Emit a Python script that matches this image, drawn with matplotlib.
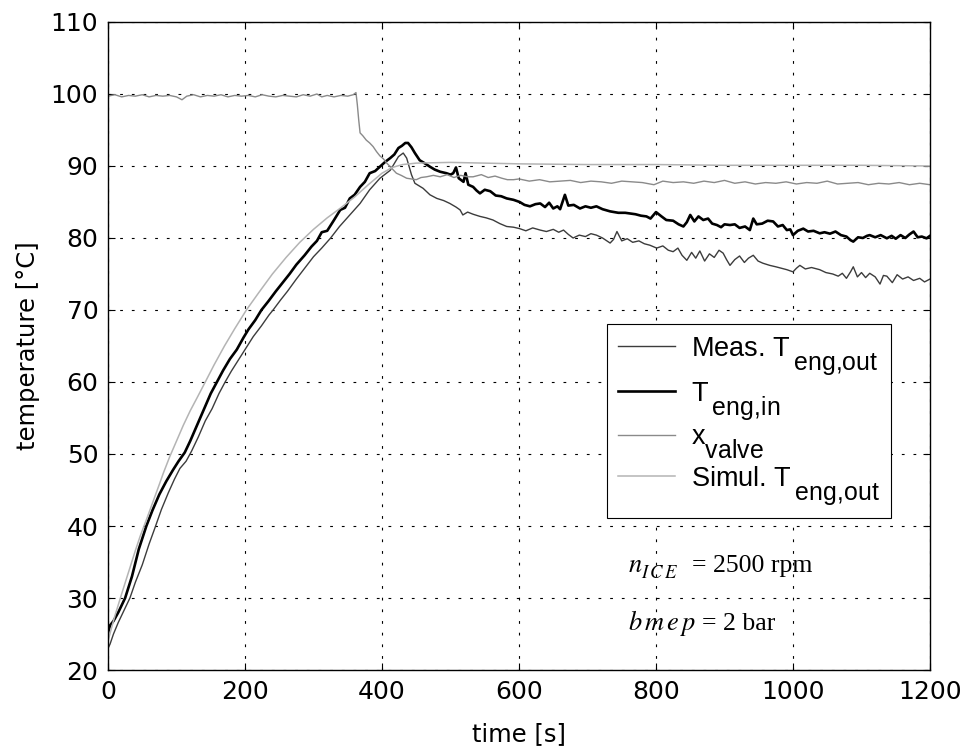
import matplotlib
matplotlib.use("Agg")
import matplotlib.pyplot as plt

# larger, lower subscripts in the legend labels (as in the reference)
try:
    import matplotlib._mathtext as _mt
    _mt.SHRINK_FACTOR = 0.92
    _mt.DejaVuSansFontConstants.sub1 = 0.95
except Exception:
    pass

# ---------------- data ----------------
t_meas = [0, 3, 8, 15, 22, 32, 40, 50, 60, 68, 78, 88, 97, 105, 114, 122, 132, 142, 152, 162,
          171, 180, 190, 200, 212, 224, 235, 241, 252, 262, 275, 287, 300, 312, 325, 338, 353, 368,
          382, 397, 412, 424, 431, 436, 443, 448, 460, 470, 480, 490, 499, 508, 514, 518, 525, 533,
          543, 552, 562, 572, 582, 592, 601, 610, 620, 631, 640, 650, 658, 665, 672, 679, 688, 697,
          705, 713, 722, 733, 738, 743, 750, 758, 766, 775, 783, 791, 801, 810, 818, 825, 832, 838,
          845, 852, 858, 864, 871, 878, 885, 892, 898, 903, 908, 915, 922, 929, 935, 942, 949, 956,
          966, 975, 983, 991, 1000, 1005, 1010, 1018, 1027, 1039, 1048, 1058, 1066, 1072, 1078, 1084,
          1088, 1094, 1100, 1106, 1112, 1120, 1127, 1132, 1137, 1145, 1152, 1160, 1168, 1176, 1185,
          1192, 1200]
y_meas = [23.0, 23.6, 25.0, 26.6, 28.0, 30.0, 32.2, 34.6, 37.5, 39.6, 42.3, 44.6, 46.5, 48.0, 49.0,
          50.4, 52.4, 54.6, 56.3, 58.4, 60.0, 61.5, 63.0, 64.5, 66.3, 67.8, 69.3, 70.0, 71.4, 72.6,
          74.3, 75.8, 77.4, 78.6, 80.0, 81.6, 83.2, 84.8, 86.7, 88.3, 89.4, 91.3, 91.8, 91.1, 88.8,
          87.6, 86.9, 86.0, 85.5, 85.2, 84.8, 84.3, 83.9, 83.2, 83.6, 83.3, 83.0, 82.8, 82.5, 82.0,
          81.6, 81.5, 81.3, 81.0, 81.4, 81.1, 80.9, 81.2, 80.8, 81.1, 80.5, 80.0, 80.4, 80.2, 80.6,
          80.4, 80.0, 79.3, 79.8, 80.9, 79.6, 79.9, 79.4, 79.6, 79.2, 79.0, 78.6, 78.9, 78.3, 78.1,
          78.6, 77.6, 76.9, 78.0, 77.2, 78.2, 76.8, 77.8, 77.3, 78.3, 77.9, 77.0, 76.2, 77.0, 77.5,
          76.6, 77.2, 77.6, 76.8, 76.5, 76.2, 76.0, 75.8, 75.6, 75.3, 75.8, 76.2, 75.7, 75.9, 75.6,
          75.2, 75.0, 74.7, 75.1, 74.4, 75.3, 76.0, 74.6, 75.2, 74.5, 75.1, 74.6, 73.6, 74.8, 74.7,
          73.8, 74.9, 74.3, 74.6, 74.1, 74.4, 73.9, 74.3]

t_in = [0, 3, 8, 15, 25, 35, 45, 56, 65, 75, 85, 95, 103, 112, 120, 130, 140, 150, 159, 168, 178,
        188, 198, 205, 215, 224, 234, 245, 255, 265, 275, 287, 297, 305, 312, 320, 330, 339, 346,
        353, 360, 368, 375, 382, 390, 397, 405, 412, 418, 424, 429, 434, 438, 443, 448, 455, 462,
        470, 477, 485, 494, 500, 504, 508, 512, 519, 522, 526, 533, 538, 543, 550, 558, 566, 574,
        582, 592, 601, 608, 616, 624, 631, 638, 644, 650, 656, 660, 667, 672, 680, 689, 697, 705,
        713, 722, 733, 745, 755, 762, 770, 778, 786, 792, 800, 808, 815, 825, 833, 840, 845, 850,
        856, 862, 869, 876, 882, 889, 895, 900, 908, 915, 922, 930, 937, 942, 947, 955, 963, 971,
        978, 985, 991, 996, 1000, 1007, 1015, 1022, 1030, 1039, 1046, 1054, 1062, 1070, 1078, 1084,
        1088, 1095, 1102, 1108, 1112, 1120, 1128, 1137, 1144, 1150, 1157, 1164, 1170, 1176, 1182,
        1188, 1195, 1200]
y_in = [25.2, 26.2, 26.8, 28.0, 30.0, 33.0, 36.8, 40.0, 42.2, 44.4, 46.2, 47.8, 49.0, 50.2, 51.8,
        54.0, 56.2, 58.4, 60.0, 61.6, 63.2, 64.5, 66.2, 67.3, 68.6, 70.0, 71.2, 72.6, 73.8, 75.0,
        76.3, 77.6, 78.8, 79.6, 80.8, 81.0, 82.5, 83.9, 84.2, 85.5, 86.0, 87.1, 87.8, 89.0, 89.3,
        89.9, 90.6, 91.1, 91.6, 92.5, 92.8, 93.2, 93.2, 92.6, 91.8, 90.8, 90.4, 89.9, 89.5, 89.2,
        89.0, 88.8, 89.0, 89.8, 88.3, 87.8, 89.0, 87.4, 87.1, 86.6, 86.2, 86.7, 86.5, 85.9, 85.8,
        85.5, 85.3, 85.0, 84.6, 84.4, 84.7, 84.8, 84.3, 84.9, 84.1, 84.4, 84.0, 86.0, 84.5, 84.6,
        84.1, 84.4, 84.2, 84.4, 84.0, 83.7, 83.5, 83.5, 83.4, 83.3, 83.1, 83.0, 82.7, 83.6, 83.0,
        82.5, 82.4, 81.9, 81.6, 82.2, 83.2, 82.3, 83.0, 82.5, 82.7, 82.0, 81.8, 81.5, 81.9, 81.8,
        81.9, 81.4, 81.6, 81.1, 82.7, 81.9, 82.0, 82.4, 82.3, 81.6, 81.8, 81.1, 81.2, 80.4, 81.0,
        81.3, 80.9, 81.0, 80.65, 80.8, 80.6, 80.9, 80.4, 80.2, 79.7, 79.5, 80.1, 80.0, 80.3, 80.4,
        80.1, 80.4, 79.96, 80.3, 79.9, 80.4, 80.0, 80.5, 80.9, 80.1, 80.2, 79.96, 80.3]

t_valve = [0, 10, 20, 30, 40, 50, 60, 70, 80, 90, 100, 108, 115, 125, 135, 145, 155, 165, 175, 185,
           195, 205, 215, 225, 235, 245, 255, 265, 275, 285, 295, 305, 312, 320, 330, 340, 350, 358,
           362, 364, 366, 368, 372, 377, 382, 387, 392, 397, 402, 407, 414, 421, 428, 436, 443, 450,
           457, 465, 475, 485, 495, 505, 515, 525, 533, 545, 555, 565, 575, 583, 592, 600, 615, 630,
           645, 660, 675, 690, 705, 720, 735, 750, 765, 780, 797, 810, 825, 840, 855, 870, 885, 900,
           915, 930, 945, 960, 975, 990, 1005, 1020, 1035, 1050, 1065, 1080, 1095, 1110, 1125, 1140,
           1155, 1170, 1185, 1200]
y_valve = [99.7, 99.9, 99.6, 99.8, 99.7, 99.9, 99.6, 99.8, 99.7, 99.8, 99.6, 99.2, 99.7, 99.9, 99.6,
           99.8, 99.7, 99.9, 99.6, 99.8, 99.7, 99.8, 99.6, 99.9, 99.7, 99.6, 99.8, 99.7, 99.6, 99.9,
           99.7, 100.0, 99.6, 99.8, 99.6, 99.8, 99.7, 99.9, 100.2, 98.5, 96.4, 94.6, 94.2, 93.6, 93.2,
           92.7, 92.0, 91.4, 91.0, 90.4, 89.7, 89.0, 88.7, 88.3, 88.2, 88.1, 88.4, 88.5, 88.7, 88.5,
           88.8, 88.4, 88.7, 88.5, 88.5, 88.8, 88.4, 88.6, 88.3, 88.1, 88.1, 88.2, 87.9, 88.1, 87.8,
           87.9, 88.0, 87.7, 87.9, 87.8, 87.6, 87.9, 87.8, 87.7, 87.4, 87.9, 87.7, 87.8, 87.6, 87.9,
           87.7, 88.0, 87.6, 87.8, 87.5, 87.7, 87.6, 87.8, 87.5, 87.7, 87.6, 87.9, 87.5, 87.6, 87.7,
           87.4, 87.6, 87.5, 87.7, 87.4, 87.6, 87.4]

t_sim = [0, 5, 10, 20, 30, 40, 47, 55, 65, 75, 81, 90, 100, 110, 120, 130, 142, 155, 170, 185, 202,
         220, 240, 260, 280, 300, 320, 340, 360, 380, 400, 415, 430, 450, 500, 600, 700, 800, 900,
         1000, 1100, 1200]
y_sim = [24.0, 25.8, 27.5, 30.6, 33.6, 36.6, 38.6, 40.6, 43.2, 45.8, 47.4, 49.6, 51.8, 54.0, 56.0,
         57.8, 60.0, 62.4, 65.0, 67.4, 70.0, 72.4, 75.0, 77.3, 79.4, 81.2, 82.8, 84.2, 85.7, 87.4,
         89.0, 89.8, 90.2, 90.4, 90.5, 90.3, 90.2, 90.2, 90.1, 90.1, 90.1, 90.0]

x_ticks = [0, 200, 400, 600, 800, 1000, 1200]
y_ticks = [20, 30, 40, 50, 60, 70, 80, 90, 100, 110]

labels = ["Meas. T$_{\\mathregular{\\,eng{,}out}}$",
          "T$_{\\mathregular{\\,eng{,}in}}$",
          "x$_{\\mathregular{valve}}$",
          "Simul. T$_{\\mathregular{\\,eng{,}out}}$"]

# ---------------- figure ----------------
W, H = 968, 751
fig = plt.figure(figsize=(W / 100, H / 100), dpi=100)
ax = fig.add_axes([108 / W, 1 - 670 / H, 822 / W, 648 / H])

l1, = ax.plot(t_meas, y_meas, color="#3c3c3c", lw=1.0)
l2, = ax.plot(t_in, y_in, color="black", lw=1.9)
l3, = ax.plot(t_valve, y_valve, color="#8a8a8a", lw=1.0)
l4, = ax.plot(t_sim, y_sim, color="#b4b4b4", lw=1.1)

ax.set_xlim(0, 1200)
ax.set_ylim(20, 110)
ax.set_xticks(x_ticks)
ax.set_yticks(y_ticks)

tick_font = "DejaVu Sans"
ax.tick_params(direction="in", length=5, width=0.8, top=True, right=True,
               labelsize=18, pad=7)
for lab in ax.get_xticklabels() + ax.get_yticklabels():
    lab.set_family(tick_font)

ax.grid(True, color="black", lw=0.8, linestyle=(0, (2.5, 8)))
ax.set_axisbelow(True)
for sp in ax.spines.values():
    sp.set_linewidth(1.0)

ax.set_xlabel("time [s]", fontsize=17.5, family=tick_font, labelpad=13)
ax.set_ylabel("temperature [°C]", fontsize=17.5, family=tick_font, labelpad=8)

leg = ax.legend([l1, l2, l3, l4], labels, loc="upper left",
                bbox_to_anchor=(607 / W, 1 - 324 / H), bbox_transform=fig.transFigure,
                borderaxespad=0, fancybox=False, framealpha=1, edgecolor="black",
                prop={"family": "Liberation Sans", "size": 19.5},
                handlelength=2.1, handletextpad=0.6, labelspacing=0.12, borderpad=0.4)
leg.get_frame().set_linewidth(0.8)


def tx(px):
    return (px - 108) * 1200 / 822


def ty(py):
    return 20 + (670 - py) / 7.2


ann_kw = dict(va="baseline", ha="left")
ax.text(tx(628), ty(572), r"$n$", math_fontfamily="stix", fontsize=19, **ann_kw)
ax.text(tx(641), ty(578), r"$I\,C\,E$", math_fontfamily="stix", fontsize=13.5, **ann_kw)
ax.text(tx(692), ty(572), "= 2500 rpm", family="Liberation Serif", fontsize=18.5, **ann_kw)
ax.text(tx(628), ty(630), r"$b\,m\,e\,p$", math_fontfamily="stix", fontsize=19, **ann_kw)
ax.text(tx(702), ty(630), "= 2 bar", family="Liberation Serif", fontsize=18.5, **ann_kw)

fig.savefig("out.png", dpi=100)
